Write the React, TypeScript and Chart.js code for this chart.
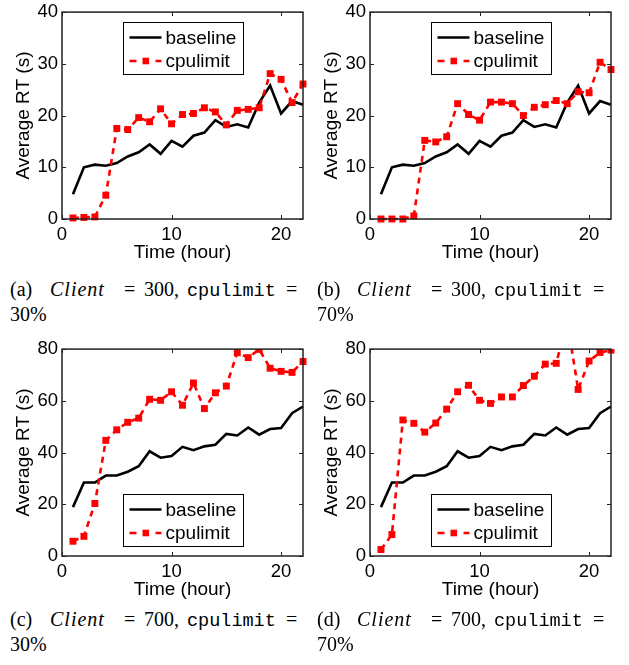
import React, { useEffect, useRef } from "react";
import { Chart, registerables } from "chart.js";

Chart.register(...registerables);

// ---------- data ----------
const hours = [1, 2, 3, 4, 5, 6, 7, 8, 9, 10, 11, 12, 13, 14, 15, 16, 17, 18, 19, 20, 21, 22];
const xTickValues = [0, 10, 20];
const yTicks300 = [0, 10, 20, 30, 40];
const yTicks700 = [0, 20, 40, 60, 80];
const seriesLabels = ["baseline", "cpulimit"];

const baseline300 = [4.8, 10.0, 10.5, 10.3, 10.8, 12.1, 12.9, 14.4, 12.6, 15.1, 14.0, 16.1, 16.7, 19.1, 17.8, 18.3, 17.7, 22.5, 25.8, 20.4, 22.8, 22.1];
const cpulimit300_30 = [0.2, 0.3, 0.4, 4.6, 17.5, 17.3, 19.6, 18.8, 21.3, 18.4, 20.2, 20.4, 21.5, 20.7, 18.2, 21.0, 21.2, 21.5, 28.1, 27.0, 22.5, 26.1];
const cpulimit300_70 = [0, 0, 0, 0.6, 15.2, 14.9, 15.9, 22.3, 20.2, 19.1, 22.6, 22.6, 22.3, 20.0, 21.6, 22.1, 22.9, 22.3, 24.6, 24.4, 30.3, 28.9];
const baseline700 = [18.9, 28.4, 28.4, 31.1, 31.1, 32.6, 34.7, 40.5, 38.0, 38.7, 42.2, 40.9, 42.4, 43.0, 47.2, 46.6, 49.7, 46.9, 49.1, 49.5, 55.2, 57.8];
const cpulimit700_30 = [5.7, 7.6, 20.3, 44.7, 48.8, 51.7, 53.3, 60.6, 60.2, 63.5, 58.3, 66.9, 57.0, 63.1, 65.7, 78.6, 76.7, 79.9, 72.6, 71.4, 71.0, 75.2];
const cpulimit700_70 = [2.5, 8.3, 52.6, 51.3, 47.9, 51.4, 56.8, 63.5, 66.0, 60.2, 59.0, 61.5, 61.5, 65.9, 69.5, 74.2, 74.5, 91, 64.4, 75.4, 78.7, 79.6];

const SANS = "'Liberation Sans', Arial, Helvetica, sans-serif";
const SERIF = "'Liberation Serif', 'Times New Roman', serif";
const MONO = "'Liberation Mono', 'DejaVu Sans Mono', monospace";

const CANVAS_W = 314;
const CANVAS_H = 268;

const framePlugin = {
  id: "frameLegend",
  afterDatasetsDraw(chart: any, _args: any, opts: any) {
    const { ctx, chartArea, scales } = chart;
    const { left, right, top, bottom } = chartArea;
    const xs = scales.x;
    const ys = scales.y;
    ctx.save();
    // inward ticks
    ctx.strokeStyle = "#222";
    ctx.lineWidth = 1;
    const tl = 4;
    ctx.beginPath();
    xs.ticks.forEach((t: any) => {
      const px = Math.round(xs.getPixelForValue(t.value)) + 0.5;
      ctx.moveTo(px, bottom);
      ctx.lineTo(px, bottom - tl);
      ctx.moveTo(px, top);
      ctx.lineTo(px, top + tl);
    });
    ys.ticks.forEach((t: any) => {
      const py = Math.round(ys.getPixelForValue(t.value)) + 0.5;
      ctx.moveTo(left, py);
      ctx.lineTo(left + tl, py);
      ctx.moveTo(right, py);
      ctx.lineTo(right - tl, py);
    });
    ctx.stroke();
    // frame
    ctx.lineWidth = 1.5;
    ctx.strokeStyle = "#222";
    ctx.strokeRect(left, top, right - left, bottom - top);

    // legend
    const bw = 120;
    const bh = 52;
    const bx = Math.round(left + (right - left - bw) / 2) + 0.5;
    const by = opts.position === "bottom" ? Math.round(bottom - 62) + 0.5 : Math.round(top + 10) + 0.5;
    ctx.fillStyle = "#fff";
    ctx.fillRect(bx, by, bw, bh);
    ctx.lineWidth = 1;
    ctx.strokeStyle = "#000";
    ctx.strokeRect(bx, by, bw, bh);
    const rows = [by + 15, by + 38.5];
    const ds = chart.data.datasets;
    // baseline sample
    ctx.strokeStyle = ds[0].borderColor;
    ctx.lineWidth = ds[0].borderWidth;
    ctx.setLineDash([]);
    ctx.beginPath();
    ctx.moveTo(bx + 6, rows[0]);
    ctx.lineTo(bx + 38, rows[0]);
    ctx.stroke();
    // cpulimit sample
    ctx.strokeStyle = ds[1].borderColor;
    ctx.lineWidth = ds[1].borderWidth;
    ctx.beginPath();
    ctx.moveTo(bx + 6, rows[1]);
    ctx.lineTo(bx + 13, rows[1]);
    ctx.moveTo(bx + 32, rows[1]);
    ctx.lineTo(bx + 38, rows[1]);
    ctx.stroke();
    ctx.fillStyle = ds[1].pointBackgroundColor;
    ctx.fillRect(bx + 19, rows[1] - 3.3, 6.6, 6.6);
    // labels
    ctx.fillStyle = "#000";
    ctx.font = `19px ${SANS}`;
    ctx.textBaseline = "middle";
    ctx.textAlign = "left";
    ctx.fillText(ds[0].label, bx + 42, rows[0] + 1);
    ctx.fillText(ds[1].label, bx + 42, rows[1] + 1);
    ctx.restore();
  },
};

type PanelProps = {
  left: number;
  top: number;
  baseline: number[];
  cpulimit: number[];
  yMax: number;
  yTicks: number[];
  legendPos: "top" | "bottom";
};

function Panel({ left, top, baseline, cpulimit, yMax, yTicks, legendPos }: PanelProps) {
  const ref = useRef<HTMLCanvasElement | null>(null);
  useEffect(() => {
    if (!ref.current) return;
    const tickFont = { family: SANS, size: 18.5 };
    const titleFont = { family: SANS, size: 19 };
    const chart = new Chart(ref.current, {
      type: "line",
      data: {
        datasets: [
          {
            label: seriesLabels[0],
            data: hours.map((h, i) => ({ x: h, y: baseline[i] })),
            borderColor: "#000",
            borderWidth: 2.6,
            pointRadius: 0,
            tension: 0,
            order: 1,
            clip: { left: 5, right: 5, top: 0, bottom: 5 },
          },
          {
            label: seriesLabels[1],
            data: hours.map((h, i) => ({ x: h, y: cpulimit[i] })),
            borderColor: "#ff0000",
            borderWidth: 2.6,
            borderDash: [6, 5],
            pointStyle: "rect",
            pointRadius: 4.9,
            pointBackgroundColor: "#ff0000",
            pointBorderWidth: 0,
            tension: 0,
            order: 0,
            clip: { left: 5, right: 5, top: 0, bottom: 5 },
          },
        ] as any,
      },
      options: {
        responsive: false,
        animation: false,
        events: [],
        layout: { padding: { top: 12, right: 11, left: 0, bottom: 0 } },
        plugins: {
          legend: { display: false },
          tooltip: { enabled: false },
          frameLegend: { position: legendPos },
        } as any,
        scales: {
          x: {
            type: "linear",
            min: 0,
            max: 22,
            afterBuildTicks: (s: any) => {
              s.ticks = xTickValues.map((v) => ({ value: v }));
            },
            afterFit: (s: any) => {
              s.height = 46;
            },
            grid: { display: false, drawTicks: false },
            border: { display: false },
            ticks: { font: tickFont, color: "#000", padding: 5, maxRotation: 0 },
            title: { display: true, text: "Time (hour)", font: titleFont, color: "#000", padding: { top: 0, bottom: 0.5 } },
          },
          y: {
            type: "linear",
            min: 0,
            max: yMax,
            afterBuildTicks: (s: any) => {
              s.ticks = yTicks.map((v) => ({ value: v }));
            },
            afterFit: (s: any) => {
              s.width = 62;
            },
            grid: { display: false, drawTicks: false },
            border: { display: false },
            ticks: { font: tickFont, color: "#000", padding: 4 },
            title: { display: true, text: "Average RT (s)", font: titleFont, color: "#000", padding: { top: 12, bottom: 0 } },
          },
        },
      } as any,
      plugins: [framePlugin],
    });
    return () => chart.destroy();
  }, [baseline, cpulimit, yMax, yTicks, legendPos]);
  return (
    <canvas
      ref={ref}
      width={CANVAS_W}
      height={CANVAS_H}
      style={{ position: "absolute", left, top, width: CANVAS_W, height: CANVAS_H }}
    />
  );
}

function Caption({ left, top, letter, client, pct }: { left: number; top: number; letter: string; client: string; pct: string }) {
  const line: React.CSSProperties = {
    position: "absolute",
    left,
    whiteSpace: "nowrap",
    fontFamily: SERIF,
    fontSize: 20,
    lineHeight: "25px",
    color: "#000",
  };
  const ib = (w: number): React.CSSProperties => ({ display: "inline-block", width: w });
  return (
    <>
      <div style={{ ...line, top }}>
        <span style={ib(40)}>({letter})</span>
        <span style={{ ...ib(74), fontStyle: "italic", letterSpacing: 1 }}>Client</span>
        <span style={ib(20)}>=</span>
        <span style={ib(43)}>{client},</span>
        <span style={{ ...ib(99), fontFamily: MONO, fontSize: 18.5 }}>cpulimit</span>
        <span>=</span>
      </div>
      <div style={{ ...line, top: top + 25 }}>{pct}</div>
    </>
  );
}

export default function App() {
  return (
    <div style={{ position: "absolute", left: 0, top: 0, width: 629, height: 665, background: "#fff", overflow: "hidden" }}>
      <Panel left={0} top={-3} baseline={baseline300} cpulimit={cpulimit300_30} yMax={40} yTicks={yTicks300} legendPos="top" />
      <Panel left={308} top={-3} baseline={baseline300} cpulimit={cpulimit300_70} yMax={40} yTicks={yTicks300} legendPos="top" />
      <Panel left={0} top={334} baseline={baseline700} cpulimit={cpulimit700_30} yMax={80} yTicks={yTicks700} legendPos="bottom" />
      <Panel left={308} top={334} baseline={baseline700} cpulimit={cpulimit700_70} yMax={80} yTicks={yTicks700} legendPos="bottom" />
      <Caption left={10} top={277} letter="a" client="300" pct="30%" />
      <Caption left={317} top={277} letter="b" client="300" pct="70%" />
      <Caption left={10} top={607} letter="c" client="700" pct="30%" />
      <Caption left={317} top={607} letter="d" client="700" pct="70%" />
    </div>
  );
}
